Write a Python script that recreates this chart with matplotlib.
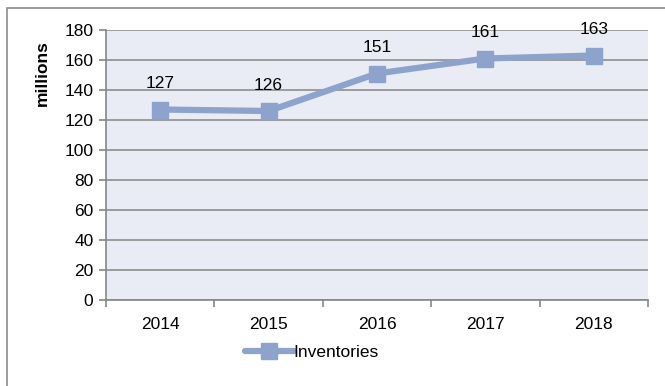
import numpy as np
import matplotlib.pyplot as plt
from matplotlib.patches import Rectangle

years = ['2014', '2015', '2016', '2017', '2018']
inventories = [127, 126, 151, 161, 163]
yticks = [0, 20, 40, 60, 80, 100, 120, 140, 160, 180]

plt.rcParams['font.family'] = ['Liberation Sans', 'DejaVu Sans']
fs = 12.5

W, H = 665, 386
fig = plt.figure(figsize=(W / 100, H / 100), dpi=100)

# outer chart frame (only left/top edges fall inside the picture)
fig.patches.append(Rectangle((7 / W, -0.1), 1.2, 1.1 - 8 / H, transform=fig.transFigure,
                             fill=False, edgecolor='#8c8c8c', linewidth=1.2))

ax = fig.add_axes([106 / W, 1 - 300 / H, (648 - 106) / W, (300 - 30) / H])
ax.set_facecolor('#e9ecf4')

x = np.arange(len(years))
ax.set_xlim(-0.5, len(years) - 0.5)
ax.set_ylim(0, 180)
ax.set_yticks(yticks)
ax.yaxis.grid(True, color='#868686', linewidth=1.1)
ax.set_axisbelow(True)

ax.plot(x, inventories, color='#8ea3cc', linewidth=4.5, marker='s', markersize=12,
        solid_capstyle='round', label='Inventories', zorder=3)
for xi, v in zip(x, inventories):
    ax.annotate(str(v), (xi, v), xytext=(0, 13), textcoords='offset points',
                ha='center', va='bottom', fontsize=fs)

for s in ['top', 'right']:
    ax.spines[s].set_visible(False)
for s in ['left', 'bottom']:
    ax.spines[s].set_color('#868686')
    ax.spines[s].set_linewidth(1.2)

ax.set_xticks(np.arange(len(years) + 1) - 0.5)
ax.set_xticklabels([])
ax.set_xticks(x, minor=True)
ax.set_xticklabels(years, minor=True, fontsize=fs)
ax.tick_params(axis='x', which='major', length=5, color='#868686', width=1.2)
ax.tick_params(axis='x', which='minor', length=0, pad=12)
ax.tick_params(axis='y', length=5, color='#868686', width=1.2, labelsize=fs, pad=4)

fig.text(42 / W, 1 - 73 / H, 'millions', rotation=90, ha='center', va='center',
         fontsize=fs, fontweight='bold')

ax.legend(loc='center', bbox_to_anchor=(312 / W, 1 - 352 / H), bbox_transform=fig.transFigure,
          frameon=False, fontsize=fs, handlelength=2.8, handletextpad=0.0, borderpad=0)

fig.savefig('out.png', dpi=100)
